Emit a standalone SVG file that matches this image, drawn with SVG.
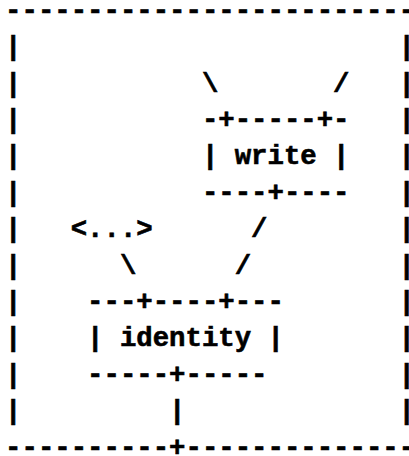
<svg xmlns="http://www.w3.org/2000/svg" width="409" height="456" viewBox="0 0 409 456">
<style>
text{font-family:"Liberation Mono","Courier New",monospace;font-weight:bold;font-size:27.33px;fill:#000;stroke:#000;stroke-width:0.6;white-space:pre}
</style>
<rect width="409" height="456" fill="#fff"/>
<g id="frame">
<text x="5.1" y="18.7" xml:space="preserve">-------------------------</text>
<text x="5.1" y="55.1">|</text><text x="398.4" y="55.1">|</text>
<text x="5.1" y="91.5">|</text><text x="398.4" y="91.5">|</text>
<text x="5.1" y="127.9">|</text><text x="398.4" y="127.9">|</text>
<text x="5.1" y="164.3">|</text><text x="398.4" y="164.3">|</text>
<text x="5.1" y="200.7">|</text><text x="398.4" y="200.7">|</text>
<text x="5.1" y="237.1">|</text><text x="398.4" y="237.1">|</text>
<text x="5.1" y="273.5">|</text><text x="398.4" y="273.5">|</text>
<text x="5.1" y="309.9">|</text><text x="398.4" y="309.9">|</text>
<text x="5.1" y="346.3">|</text><text x="398.4" y="346.3">|</text>
<text x="5.1" y="382.7">|</text><text x="398.4" y="382.7">|</text>
<text x="5.1" y="419.1">|</text><text x="398.4" y="419.1">|</text>
<text x="5.1" y="455.5" xml:space="preserve">----------+--------------</text>
</g>
<g id="write">
<text x="201.9" y="127.9" xml:space="preserve">-+-----+-</text>
<text x="201.9" y="164.3" xml:space="preserve">| write |</text>
<text x="201.9" y="200.7" xml:space="preserve">----+----</text>
</g>
<g id="identity">
<text x="87.1" y="309.9" xml:space="preserve">---+----+---</text>
<text x="87.1" y="346.3" xml:space="preserve">| identity |</text>
<text x="87.1" y="382.7" xml:space="preserve">-----+-----</text>
</g>
<g id="ellipsis">
<text x="70.7" y="237.1">&lt;...&gt;</text>
</g>
<g id="connectors">
<text x="201.9" y="91.5">\</text>
<text x="333.1" y="91.5">/</text>
<text x="251.1" y="237.1">/</text>
<text x="119.9" y="273.5">\</text>
<text x="234.7" y="273.5">/</text>
<text x="169.1" y="419.1">|</text>
</g>
</svg>
